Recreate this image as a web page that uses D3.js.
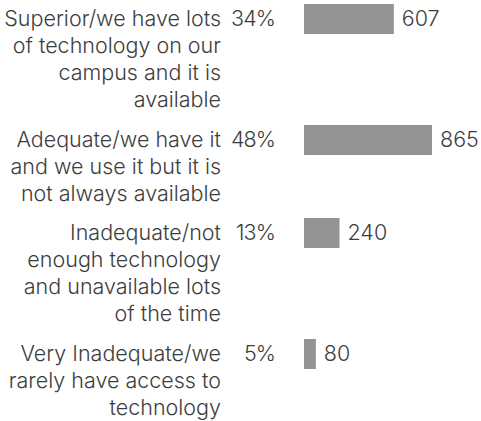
<!DOCTYPE html>
<html>
<head>
<meta charset="utf-8">
<script src="https://cdn.jsdelivr.net/npm/d3@7/dist/d3.min.js"></script>
<style>
  html, body { margin: 0; padding: 0; background: #fff; }
  svg { display: block; }
  text { font-family: "Inter", "Noto Sans", sans-serif; font-weight: 300; fill: #3d3d3d; }
</style>
</head>
<body>
<svg id="chart" width="481" height="421"></svg>
<script>
// Survey answers, wrapped as they are printed
const categories = [
  ["Superior/we have lots", "of technology on our", "campus and it is", "available"],
  ["Adequate/we have it", "and we use it but it is", "not always available"],
  ["Inadequate/not", "enough technology", "and unavailable lots", "of the time"],
  ["Very Inadequate/we", "rarely have access to", "technology"]
];
const counts = [607, 865, 240, 80];
const percents = [34, 48, 13, 5];

const svg = d3.select("#chart");
const fontSize = 21.5;
const lineH = 27;
const rowGap = 12.7;
const labelRight = 221;
const pctRight = 275;
const barLeft = 304;
const barH = 30;

// Each row is as tall as its wrapped label
const tops = [];
let acc = 4;
categories.forEach(lines => { tops.push(acc); acc += lines.length * lineH + rowGap; });

const x = d3.scaleLinear().domain([0, 865]).range([barLeft, barLeft + 128]);

const rows = svg.selectAll("g.row")
  .data(categories.map((lines, i) => ({ lines, count: counts[i], pct: percents[i], top: Math.round(tops[i]) })))
  .join("g")
  .attr("class", "row")
  .attr("transform", d => `translate(0,${d.top})`);

rows.append("text")
  .attr("text-anchor", "end")
  .style("font-size", fontSize + "px")
  .selectAll("tspan")
  .data(d => d.lines)
  .join("tspan")
  .attr("x", labelRight)
  .attr("y", (l, j) => 22 + j * lineH)
  .text(l => l);

rows.append("text")
  .attr("x", pctRight)
  .attr("y", 22)
  .attr("text-anchor", "end")
  .style("font-size", fontSize + "px")
  .style("letter-spacing", "-0.9px")
  .text(d => d.pct + "%");

rows.append("rect")
  .attr("x", x(0))
  .attr("y", 0)
  .attr("width", d => x(d.count) - x(0))
  .attr("height", barH)
  .attr("fill", "#939393");

rows.append("text")
  .attr("x", d => x(d.count) + 8)
  .attr("y", 22)
  .style("font-size", fontSize + "px")
  .text(d => d.count);
</script>
</body>
</html>
